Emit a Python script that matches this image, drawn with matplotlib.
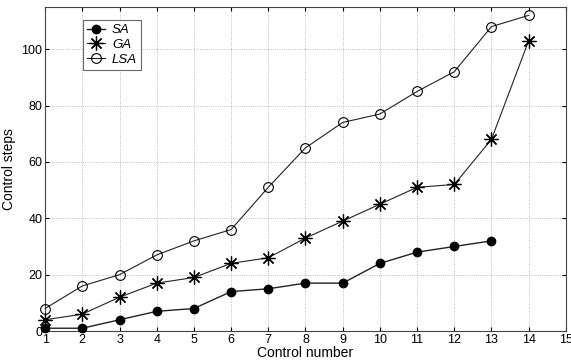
import matplotlib

matplotlib.use("Agg")
import matplotlib.pyplot as plt

plt.rcParams["font.family"] = ["Liberation Sans", "DejaVu Sans"]

x_sa = list(range(1, 14))
sa = [1, 1, 4, 7, 8, 14, 15, 17, 17, 24, 28, 30, 32]

x_ga = list(range(1, 15))
ga = [4, 6, 12, 17, 19, 24, 26, 33, 39, 45, 51, 52, 68, 103]

x_lsa = list(range(1, 15))
lsa = [8, 16, 20, 27, 32, 36, 51, 65, 74, 77, 85, 92, 108, 112]

x_ticks = list(range(1, 16))
y_ticks = [0, 20, 40, 60, 80, 100]

fig = plt.figure(figsize=(5.71, 3.63), dpi=100)
ax = fig.add_axes([0.079, 0.088, 0.912, 0.893])

line_color = "#222222"

ax.plot(
	x_sa, sa, color=line_color, lw=1.0, marker="o", ms=6,
	mfc="black", mec="black", label="SA", clip_on=False, zorder=3,
)
ax.plot(
	x_ga, ga, color=line_color, lw=0.8, marker=(8, 2, 0), ms=10,
	mfc="none", mec="black", mew=0.9, label="GA", clip_on=False, zorder=3,
)
ax.plot(
	x_lsa, lsa, color=line_color, lw=0.8, marker="o", ms=7,
	mfc="none", mec="black", mew=0.8, label="LSA", clip_on=False, zorder=3,
)

ax.set_xlim(1, 15)
ax.set_ylim(0, 115)
ax.set_xticks(x_ticks)
ax.set_yticks(y_ticks)
ax.tick_params(labelsize=9, length=3, direction="in", top=True, right=True, pad=2)
ax.grid(True, linestyle=":", linewidth=0.6, color="#aaaaaa")

for spine in ax.spines.values():
	spine.set_color("#444444")
	spine.set_linewidth(0.8)

ax.set_xlabel("Control number", fontsize=10, labelpad=0)
ax.set_ylabel("Control steps", fontsize=10, labelpad=4)

legend = ax.legend(
	loc="upper left", bbox_to_anchor=(0.06, 0.98),
	prop={"style": "italic", "size": 9.5}, fancybox=False, edgecolor="#444444",
	handlelength=1.4, borderpad=0.3, labelspacing=0.2, handletextpad=0.5,
)
legend.get_frame().set_linewidth(0.8)

fig.savefig("out.png", dpi=100)
